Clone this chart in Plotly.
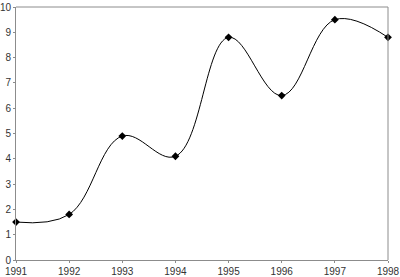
import plotly.graph_objects as go

years = [1991, 1992, 1993, 1994, 1995, 1996, 1997, 1998]
values = [1.5, 1.8, 4.9, 4.1, 8.8, 6.5, 9.5, 8.8]
y_ticks = list(range(0, 11))

fig = go.Figure()
fig.add_trace(go.Scatter(
    x=years, y=values, mode="lines+markers",
    line=dict(color="#000000", width=1, shape="spline", smoothing=1.1),
    marker=dict(symbol="diamond", size=6, color="#000000"),
    cliponaxis=False,
))

axis_common = dict(
    showgrid=False, zeroline=False, showline=True, linecolor="#8c8c8c", linewidth=1,
    ticks="outside", ticklen=2, tickcolor="#8c8c8c", mirror=False,
    ticklabeloverflow="allow", automargin=False,
    tickfont=dict(family="Liberation Sans, Arial", size=10, color="#333333"),
)

fig.update_layout(
    width=400, height=277,
    margin=dict(l=16, r=12, t=7, b=17),
    paper_bgcolor="white", plot_bgcolor="white",
    showlegend=False,
    xaxis=dict(range=[1991, 1998], tickvals=years, ticktext=[str(y) for y in years], **axis_common),
    yaxis=dict(range=[0, 10], tickvals=y_ticks, **axis_common),
    shapes=[
        dict(type="line", xref="paper", yref="paper", x0=0, x1=1, y0=1, y1=1,
             line=dict(color="#8c8c8c", width=1)),
        dict(type="line", xref="paper", yref="paper", x0=1, x1=1, y0=0, y1=1,
             line=dict(color="#8c8c8c", width=1)),
    ],
)

fig.write_html("out.html")
